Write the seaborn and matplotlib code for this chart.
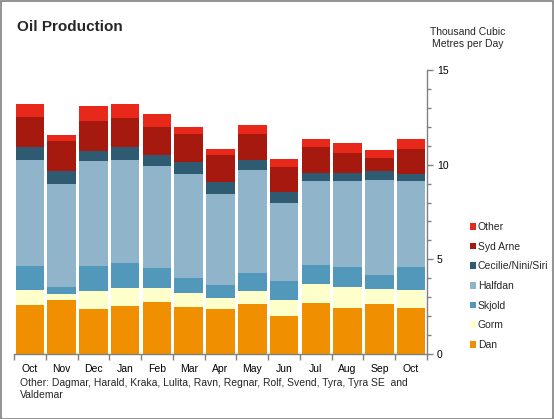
import matplotlib
matplotlib.use("Agg")
import matplotlib.pyplot as plt
import seaborn as sns
import numpy as np
import pandas as pd
from matplotlib.patches import Patch, Rectangle

# ---- data ----
periods = ["2011-10", "2011-11", "2011-12", "2012-01", "2012-02", "2012-03", "2012-04",
           "2012-05", "2012-06", "2012-07", "2012-08", "2012-09", "2012-10"]
tick_labels = ["Oct", "Nov", "Dec", "Jan", "Feb", "Mar", "Apr", "May", "Jun", "Jul", "Aug", "Sep", "Oct"]

dan      = [2.61, 2.87, 2.40, 2.56, 2.77, 2.50, 2.40, 2.66, 2.03, 2.71, 2.45, 2.66, 2.45]
gorm     = [0.79, 0.32, 0.95, 0.95, 0.74, 0.74, 0.58, 0.69, 0.84, 1.01, 1.11, 0.79, 0.95]
skjold   = [1.26, 0.37, 1.31, 1.31, 1.05, 0.79, 0.68, 0.94, 1.00, 1.00, 1.05, 0.74, 1.21]
halfdan  = [5.60, 5.44, 5.55, 5.44, 5.39, 5.49, 4.81, 5.44, 4.12, 4.44, 4.55, 5.02, 4.55]
cecilie  = [0.69, 0.65, 0.53, 0.69, 0.58, 0.64, 0.63, 0.53, 0.58, 0.42, 0.42, 0.48, 0.36]
syd_arne = [1.59, 1.62, 1.58, 1.53, 1.48, 1.48, 1.43, 1.38, 1.32, 1.37, 1.05, 0.68, 1.32]
other    = [0.68, 0.31, 0.79, 0.74, 0.68, 0.37, 0.31, 0.47, 0.43, 0.42, 0.53, 0.42, 0.53]

series_names = ["Dan", "Gorm", "Skjold", "Halfdan", "Cecilie/Nini/Siri", "Syd Arne", "Other"]
series_values = [dan, gorm, skjold, halfdan, cecilie, syd_arne, other]
colors = ["#F09000", "#FFFFCC", "#5198BA", "#90B5CB", "#2E5B72", "#A5190F", "#E8281A"]

title = "Oil Production"
unit_label = "Thousand Cubic\nMetres per Day"
footnote = "Other: Dagmar, Harald, Kraka, Lulita, Ravn, Regnar, Rolf, Svend, Tyra, Tyra SE  and\nValdemar"

# ---- style ----
sns.set_style("white")
plt.rcParams["font.family"] = ["Liberation Sans", "DejaVu Sans"]
FS = 7.5
GRAY = "#808080"

fig = plt.figure(figsize=(5.54, 4.19), dpi=100)
ax = fig.add_axes([14 / 554, (419 - 354) / 419, (427 - 14) / 554, (354 - 70) / 419])

cum = np.zeros(len(periods))
cums = []
for vals in series_values:
    cum = cum + np.array(vals)
    cums.append(cum.copy())

# draw from top cumulative down so lower layers overlay
for name, c, col in reversed(list(zip(series_names, cums, colors))):
    d = pd.DataFrame({"period": periods, "value": c})
    sns.barplot(data=d, x="period", y="value", order=periods, color=col,
                width=0.9, saturation=1, linewidth=0, ax=ax)

ax.set_xlim(-0.5, len(periods) - 0.5)
ax.set_ylim(0, 15)
ax.set_xlabel("")
ax.set_ylabel("")

# spines
for s in ["left", "top"]:
    ax.spines[s].set_visible(False)
for s in ["right", "bottom"]:
    ax.spines[s].set_color(GRAY)
    ax.spines[s].set_linewidth(1)

# y axis on right
ax.yaxis.tick_right()
ax.set_yticks([0, 5, 10, 15])
ax.set_yticklabels(["0", "5", "10", "15"])
ax.set_yticks(np.arange(0, 16, 1), minor=True)
ax.tick_params(axis="y", which="major", length=4, width=1, color=GRAY, labelsize=FS,
               pad=3, labelcolor="black", right=True, left=False)
ax.tick_params(axis="y", which="minor", length=3, width=1, color=GRAY, right=True, left=False)

# x axis: labels at centers, ticks at boundaries
ax.set_xticks(range(len(periods)))
ax.set_xticklabels(tick_labels)
ax.set_xticks(np.arange(-0.5, len(periods), 1), minor=True)
ax.tick_params(axis="x", which="major", length=0, labelsize=FS, pad=7, labelcolor="black")
ax.tick_params(axis="x", which="minor", length=4, width=1, color=GRAY, bottom=True)

# texts
fig.text(17 / 554, 1 - 27 / 419, title, fontsize=11, fontweight="bold", ha="left", va="center")
fig.text(468 / 554, 1 - 38 / 419, unit_label, fontsize=FS, ha="center", va="center",
         linespacing=1.2)
fig.text(20 / 554, 1 - 389 / 419, footnote, fontsize=FS, ha="left", va="center",
         linespacing=1.25)

# legend
handles = [Patch(facecolor=col, edgecolor="none", label=n)
           for n, col in zip(series_names, colors)][::-1]
leg = fig.legend(handles=handles, loc="upper left", bbox_to_anchor=(470 / 554, 1 - 222 / 419),
                 frameon=False, fontsize=FS, handlelength=0.6, handleheight=0.6,
                 handletextpad=0.15, labelspacing=0.93, borderpad=0, borderaxespad=0)

# figure border
fig.patches.append(Rectangle((0.5 / 554, 0.5 / 419), 1 - 1.5 / 554, 1 - 1.5 / 419,
                             transform=fig.transFigure, fill=False, edgecolor=GRAY,
                             linewidth=1.2, zorder=10))

fig.savefig("out.png", dpi=100)
